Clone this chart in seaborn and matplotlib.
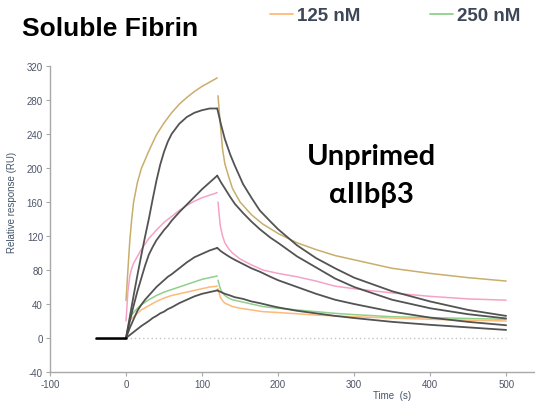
import matplotlib
matplotlib.use("Agg")
import matplotlib.pyplot as plt
import seaborn as sns
from matplotlib.lines import Line2D

# ---------------- data ----------------
# pre-injection baseline
pre_t = [-40, 0]
fit_base = [0, 0]
data_base = [-1.5, -1.5]

# association phase (measured)
assoc_t = [0, 2.5, 5, 7.5, 10, 15, 20, 30, 40, 50, 60, 70, 80, 90, 100, 110, 120]
tan_assoc = [44, 80, 115, 140, 160, 183, 199, 220, 239, 253, 265, 275, 283, 290, 296, 301, 306]
pink_assoc = [20, 55, 73, 82, 88, 96, 104, 117, 127, 136, 143, 150, 156, 161, 165, 168, 171]
green_assoc = [0, 12, 22, 27, 30, 35, 39, 45, 50, 54, 57, 60, 63, 66, 69, 71, 73]
orange_assoc = [0, 10, 20, 23, 25, 29, 33, 38, 43, 47, 50, 52, 54, 56, 58, 60, 61]

# dissociation phase (measured)
dissoc_t = [121, 124, 127, 130, 135, 140, 150, 165, 180, 200, 225, 250, 275, 300, 350, 400, 450, 500]
tan_dissoc = [285, 252, 222, 205, 190, 176, 160, 145, 134, 123, 112, 104, 97, 92, 82, 76, 71, 67]
pink_dissoc = [160, 132, 120, 112, 105, 100, 93, 86, 80, 76, 72, 67, 61, 58, 53, 49, 46, 44.5]
green_dissoc = [68, 58, 53, 50, 47, 45, 43, 40, 37, 35, 33, 31, 29, 27.5, 25, 24, 23, 22]
orange_dissoc = [58, 48, 44, 41, 39, 37, 35, 33, 31, 30, 28.5, 27, 26, 25, 23.5, 22, 21, 20]

# kinetic fits
fit_assoc_t = [0, 5, 10, 15, 20, 25, 30, 35, 40, 45, 50, 55, 60, 70, 80, 90, 100, 110, 120]
fitA_assoc = [0, 25, 50, 74, 97, 119, 140, 163, 185, 204, 219, 231, 240, 252, 260, 265, 268, 270, 270]
fitB_assoc = [0, 20, 38, 55, 70, 85, 98, 107, 115, 121, 127, 132, 138, 148, 157, 166, 175, 183, 191]
fitC_assoc = [0, 12, 22, 32, 39, 45, 50, 55, 60, 64, 68, 72, 75, 82, 89, 95, 99, 103, 106]
fitD_assoc = [0, 3.5, 7, 10.5, 14, 17, 20, 23.5, 26, 29, 31, 34, 36, 41, 45, 49, 52, 54, 56]

fit_dissoc_t = [120, 125, 130, 137, 143, 154, 165, 176, 190, 200, 225, 250, 275, 300, 350, 400, 450, 500]
fitA_dissoc = [270, 251, 234, 216, 203, 181, 165, 150, 137, 128, 109, 94, 82, 71, 55, 43, 33, 26]
fitB_dissoc = [191, 183, 176, 166, 158, 147, 137, 128, 118, 112, 96, 83, 70, 60, 45, 35, 28, 23]
fitC_dissoc = [106, 102, 99, 95, 92, 87, 82, 78, 72, 68, 60, 52, 45, 40, 31, 24, 19, 15]
fitD_dissoc = [56, 54, 52, 50, 48, 46, 43, 41, 38, 36, 32, 29, 26, 23.5, 19, 15.5, 12.5, 9.5]

legend_labels = ["125 nM", "250 nM"]
x_ticks = [-100, 0, 100, 200, 300, 400, 500]
y_ticks = [-40, 0, 40, 80, 120, 160, 200, 240, 280, 320]

# ---------------- style ----------------
TAN = "#c9ae6b"
PINK = "#f6a2c6"
GREEN = "#90d08c"
ORANGE = "#fdba78"
FIT = "#4a4a4a"
AXIS = "#a8a8a8"
TICKTXT = "#4d5566"

sns.set_theme(style="white")
plt.rcParams["font.family"] = ["Liberation Sans", "DejaVu Sans"]
plt.rcParams["axes.unicode_minus"] = False

fig = plt.figure(figsize=(5.35, 4.02), dpi=100)
ax = fig.add_axes([50 / 535, 29 / 402, 1 - 50 / 535, 306 / 402])

data_series = [
    (tan_assoc, tan_dissoc, TAN),
    (pink_assoc, pink_dissoc, PINK),
    (green_assoc, green_dissoc, GREEN),
    (orange_assoc, orange_dissoc, ORANGE),
]
fit_series = [
    (fitA_assoc, fitA_dissoc),
    (fitB_assoc, fitB_dissoc),
    (fitC_assoc, fitC_dissoc),
    (fitD_assoc, fitD_dissoc),
]

# zero reference line
ax.hlines(0, assoc_t[0], dissoc_t[-1], colors="#c4c4c4", linestyles=(0, (1, 2)),
          linewidth=1.0, zorder=1)

for a, d, c in data_series:
    sns.lineplot(x=pre_t, y=data_base, color=c, linewidth=1.1, ax=ax, zorder=2)
    sns.lineplot(x=assoc_t, y=a, color=c, linewidth=1.1, ax=ax, zorder=2)
    sns.lineplot(x=dissoc_t, y=d, color=c, linewidth=1.1, ax=ax, zorder=2)

sns.lineplot(x=pre_t, y=fit_base, color="black", linewidth=1.8, ax=ax, zorder=4)
for a, d in fit_series:
    sns.lineplot(x=fit_assoc_t, y=a, color=FIT, linewidth=1.3, alpha=0.95, ax=ax, zorder=3)
    sns.lineplot(x=fit_dissoc_t, y=d, color=FIT, linewidth=1.3, alpha=0.95, ax=ax, zorder=3)

ax.set_xlim(-100, 538)
ax.set_ylim(-40, 320)
ax.set_xticks(x_ticks)
ax.set_yticks(y_ticks)
for s in ["top", "right"]:
    ax.spines[s].set_visible(False)
for s in ["left", "bottom"]:
    ax.spines[s].set_color(AXIS)
    ax.spines[s].set_linewidth(1.0)
ax.tick_params(axis="both", which="both", direction="out", length=3, width=0.8,
               color=AXIS, labelsize=7, labelcolor=TICKTXT, pad=2,
               left=True, bottom=True)
ax.grid(False)

ax.set_ylabel("Relative response (RU)", fontsize=7, color="#44546a")
ax.yaxis.set_label_coords(-0.068, 0.559)
ax.set_xlabel("Time  (s)", fontsize=7, color="#44546a")
ax.xaxis.set_label_coords(0.705, -0.058)

# titles and annotation
fig.text(22 / 535, 1 - 36 / 402, "Soluble Fibrin", fontsize=19, fontweight="bold",
         color="black", ha="left", va="baseline")
fig.text(371 / 535, 1 - 165 / 402, "Unprimed", fontsize=21, fontweight="bold",
         family=["Lato", "DejaVu Sans"], color="black", ha="center", va="baseline")
fig.text(371 / 535, 1 - 203 / 402, "αIIbβ3", fontsize=21, fontweight="bold",
         family=["Lato", "DejaVu Sans"], color="black", ha="center", va="baseline")

handles = [Line2D([], [], color=ORANGE, linewidth=1.3),
           Line2D([], [], color=GREEN, linewidth=1.3)]
leg = fig.legend(handles=handles, labels=legend_labels, ncol=2, loc="center left",
                 bbox_to_anchor=(270 / 535, 1 - 16.5 / 402), frameon=False,
                 borderpad=0, borderaxespad=0, handlelength=1.23,
                 handletextpad=0.21, columnspacing=3.7,
                 prop=dict(family="Liberation Sans", weight="bold", size=13.5))
for t in leg.get_texts():
    t.set_color("#3d4757")

fig.savefig("out.png", dpi=100)
